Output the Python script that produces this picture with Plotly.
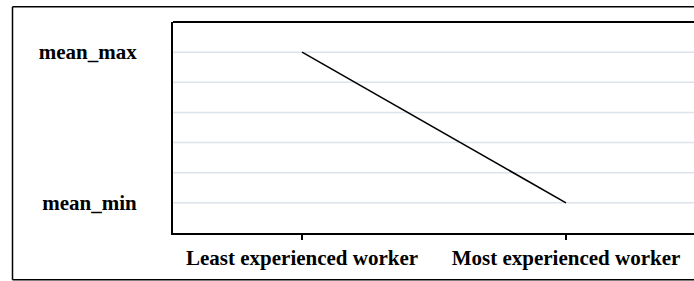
import plotly.graph_objects as go

categories = ["Least experienced worker", "Most experienced worker"]
values = [5, 0]
ytick_vals = [0, 5]
ytick_labels = ["mean_min", "mean_max"]
grid_vals = [0, 1, 2, 3, 4, 5]

W, H = 694, 281
L, R, T, B = 173, 0, 22, 48
pw, ph = W - L - R, H - T - B

def px_x(x):
    return (x - L) / pw

def px_y(y):
    return (H - B - y) / ph

font = dict(family="Liberation Serif, Times New Roman, serif", size=21, color="black", weight="bold")

fig = go.Figure()
fig.add_trace(go.Scatter(
    x=[0, 1], y=values, mode="lines",
    line=dict(color="black", width=1.6),
    hoverinfo="skip", showlegend=False,
))

shapes = []
for g in grid_vals:
    shapes.append(dict(type="line", xref="paper", yref="y", x0=0, x1=1, y0=g, y1=g,
                       line=dict(color="#dde3ea", width=1.5), layer="below"))
shapes.append(dict(type="line", xref="paper", yref="paper", x0=0, x1=1.01, y0=1, y1=1,
                   line=dict(color="black", width=2)))
ox0 = px_x(12.5)
oy_top = px_y(6.8)
oy_bot = px_y(279.8)
shapes.append(dict(type="line", xref="paper", yref="paper", x0=ox0, x1=ox0, y0=oy_bot, y1=oy_top,
                   line=dict(color="black", width=1.5)))
shapes.append(dict(type="line", xref="paper", yref="paper", x0=ox0, x1=1.01, y0=oy_top, y1=oy_top,
                   line=dict(color="black", width=1.5)))
shapes.append(dict(type="line", xref="paper", yref="paper", x0=ox0, x1=1.01, y0=oy_bot, y1=oy_bot,
                   line=dict(color="black", width=1.5)))

fig.update_layout(
    width=W, height=H, autosize=False,
    margin=dict(l=L, r=R, t=T, b=B, pad=0),
    paper_bgcolor="white", plot_bgcolor="white",
    shapes=shapes,
    showlegend=False,
)
fig.update_xaxes(
    range=[-0.489, 1.485],
    tickmode="array", tickvals=[0, 1], ticktext=categories,
    showgrid=False, zeroline=False,
    showline=True, linecolor="black", linewidth=2,
    ticks="outside", ticklen=5, tickwidth=1.5, tickcolor="black",
    tickfont=font, fixedrange=True,
)
fig.update_yaxes(
    range=[-1, 6],
    tickmode="array", tickvals=ytick_vals, ticktext=ytick_labels,
    showgrid=False, zeroline=False,
    showline=True, linecolor="black", linewidth=2,
    ticks="", ticklabelstandoff=30,
    tickfont=font, fixedrange=True,
)

fig.write_html(
    "out.html",
    config={"displayModeBar": False},
    post_script="document.body.style.margin='0';document.body.style.overflow='hidden';",
)
